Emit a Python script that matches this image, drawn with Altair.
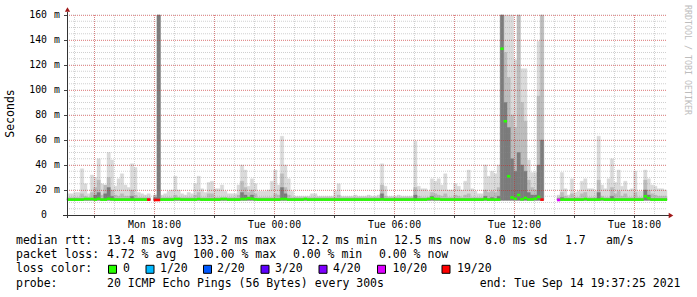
import altair as alt
import pandas as pd

# ---------------- data ----------------
START_H = 13 + 37 / 60 + 25 / 3600   # Mon 13:37:25 as hours since Mon 00:00
SPAN_H = 30
BIN_H = 10 / 60
SMOKE_FLOOR = 11.8                   # ms, bottom of the smoke

# smoke: max ping per 10-min bin (ms); None = no data
hi = [
    17, 17, 18, 18, 37, 25, 17, 32, 30, 45,
    25, 22, 50, 44, 23, 29, 33, 24, 22, 41,
    38, 18, 17, 16, 17, None, 16, 160, 16, 17,
    19, 20, 31, 20, 17, 16, 18, 17, 25, 31,
    21, 18, 26, 27, 21, 21, 24, 19, 17, 17,
    17, 24, 40, 36, 23, 29, 25, 19, 19, 19,
    20, 27, 36, 24, 63, 40, 29, 19, 15, 15,
    15, 15, 15, 17, 17, 15, 15, 15, 15, 15,
    19, 25, 15, 15, 15, 15, 16, 15, 15, 15,
    16, 15, 15, 16, 41, 23, 15, 15, 15, 16,
    15, 15, 15, 15, 59, 23, 21, 21, 19, 29,
    27, 29, 24, 33, 20, 20, 25, 23, 20, 27,
    36, 21, 19, 17, 17, 40, 31, 35, 33, 40,
    160, 160, 160, 160, 124, 160, 117, 117, 44, 34,
    34, 139, 160, None, None, None, None, 16, 34, 21,
    16, 29, 18, 19, 27, 29, 21, 21, 19, 63,
    24, 21, 29, 45, 26, 36, 23, 27, 20, 21,
    35, 19, 19, 36, 29, 24, 23, 21, 21, 20,
]
# inner (denser) smoke band top
mid = [
    14, 14, 14, 14, 17, 15, 14, 18, 22, 28,
    16, 24, 30, 20, 16, 15, 17, 15, 15, 20,
    16, 14, 14, 14, 14, None, 16, 160, 14, 14,
    14, 14, 16, 14, 14, 14, 14, 14, 16, 18,
    14, 14, 17, 17, 14, 14, 14, 14, 14, 14,
    14, 16, 27, 22, 18, 20, 17, 14, 14, 14,
    14, 14, 17, 16, 33, 22, 16, 14, 14, 14,
    14, 14, 14, 14, 14, 14, 14, 14, 14, 14,
    14, 16, 14, 14, 14, 14, 14, 14, 14, 14,
    14, 14, 14, 14, 24, 15, 14, 14, 14, 14,
    14, 14, 14, 14, 22, 15, 14, 14, 14, 18,
    17, 16, 15, 17, 14, 14, 16, 15, 14, 16,
    17, 14, 14, 14, 14, 20, 18, 19, 18, 22,
    160, 130, 110, 80, 70, 160, 90, 75, 28, 22,
    20, 95, 160, None, None, None, None, 14, 18, 15,
    14, 17, 14, 14, 17, 18, 14, 14, 14, 28,
    15, 14, 14, 22, 17, 19, 15, 17, 14, 14,
    18, 14, 14, 28, 20, 17, 16, 15, 15, 15,
]
# core (darkest) smoke band top
dark = [
    13, 13, 13, 13, 13, 13, 13, 13, 16, 18,
    13, 17, 22, 15, 13, 13, 13, 13, 13, 15,
    13, 13, 13, 13, 13, None, 14, 160, 13, 13,
    13, 13, 13, 13, 13, 13, 13, 13, 13, 13,
    13, 13, 13, 13, 13, 13, 13, 13, 13, 13,
    13, 13, 18, 16, 13, 16, 13, 13, 13, 13,
    13, 13, 13, 13, 22, 17, 13, 13, 13, 13,
    13, 13, 13, 13, 13, 13, 13, 13, 13, 13,
    13, 13, 13, 13, 13, 13, 13, 13, 13, 13,
    13, 13, 13, 13, 17, 13, 13, 13, 13, 13,
    13, 13, 13, 13, 16, 13, 13, 13, 13, 15,
    13, 13, 13, 13, 13, 13, 13, 13, 13, 13,
    13, 13, 13, 13, 13, 15, 13, 14, 13, 15,
    160, 90, 70, 45, 35, 50, 40, 35, 18, 16,
    16, 40, 60, None, None, None, None, 13, 14, 13,
    13, 13, 13, 13, 13, 13, 13, 13, 13, 18,
    13, 13, 13, 15, 13, 13, 13, 13, 13, 13,
    13, 13, 13, 20, 16, 13, 13, 13, 13, 13,
]
# median rtt (ms)
med = [
    12.3, 12.3, 12.3, 12.3, 12.3, 12.8, 12.8, 12.8, 12.3, 13.0,
    12.3, 12.3, 13.0, 12.5, 12.3, 12.3, 12.3, 12.3, 12.3, 12.3,
    12.3, 12.3, 12.3, 12.3, 12.3, None, 12.0, 12.0, 12.3, 12.3,
    12.3, 12.3, 12.8, 12.8, 12.3, 12.3, 12.3, 12.3, 12.3, 12.8,
    12.3, 12.3, 12.3, 12.3, 12.3, 12.3, 12.8, 12.8, 12.3, 12.3,
    12.3, 12.3, 12.8, 12.8, 13.5, 13.0, 12.5, 12.3, 12.3, 12.3,
    12.3, 12.3, 12.3, 12.3, 12.8, 12.8, 12.3, 12.3, 12.3, 12.3,
    12.3, 12.8, 12.3, 12.3, 12.3, 12.3, 12.3, 12.3, 12.3, 12.3,
    12.3, 12.3, 12.3, 12.3, 12.3, 12.3, 12.3, 12.3, 12.3, 12.3,
    12.3, 12.3, 12.3, 12.3, 12.5, 12.3, 12.3, 12.3, 12.3, 12.3,
    12.3, 12.3, 12.3, 12.3, 12.3, 12.3, 12.3, 12.3, 12.8, 13.5,
    12.8, 12.8, 12.3, 12.3, 12.3, 12.3, 12.3, 12.3, 12.3, 12.3,
    12.3, 12.3, 12.3, 12.3, 12.3, 12.8, 12.3, 12.3, 12.3, 12.3,
    133.0, 75.0, 31.0, 14.0, 13.0, 16.0, 12.5, 13.6, 12.5, 12.5,
    13.0, 14.5, 12.3, None, None, None, None, 12.0, 12.3, 12.3,
    12.3, 12.3, 12.3, 12.3, 12.3, 12.8, 12.3, 12.3, 12.3, 12.3,
    12.8, 12.3, 12.3, 12.3, 12.3, 12.3, 12.3, 12.3, 12.3, 12.3,
    12.3, 12.3, 12.3, 15.0, 13.5, 12.3, 12.3, 12.3, 12.3, 12.3,
]
# lost pings out of 20 per bin
lost = [
    0, 0, 0, 0, 0, 0, 0, 0, 0, 0,
    0, 0, 0, 0, 0, 0, 0, 0, 0, 0,
    0, 0, 0, 0, 19, None, 19, 19, 0, 0,
    0, 0, 0, 0, 0, 0, 0, 0, 0, 0,
    0, 0, 0, 0, 0, 0, 0, 0, 0, 0,
    0, 0, 0, 0, 0, 0, 0, 0, 0, 0,
    0, 0, 0, 0, 0, 0, 0, 0, 0, 0,
    0, 0, 0, 0, 0, 0, 0, 0, 0, 0,
    0, 0, 0, 0, 0, 0, 0, 0, 0, 0,
    0, 0, 0, 0, 0, 0, 0, 0, 0, 0,
    0, 0, 0, 0, 0, 0, 0, 0, 0, 0,
    0, 0, 0, 0, 0, 0, 0, 0, 0, 0,
    0, 0, 0, 0, 0, 0, 0, 0, 0, 0,
    0, 0, 0, 0, 0, 0, 0, 0, 0, 0,
    0, 0, 19, None, None, None, None, 10, 0, 0,
    0, 0, 0, 0, 0, 0, 0, 0, 0, 0,
    0, 0, 0, 0, 0, 0, 0, 0, 0, 0,
    0, 0, 0, 0, 0, 0, 0, 0, 0, 0,
]

loss_labels = ["0", "1/20", "2/20", "3/20", "4/20", "10/20", "19/20"]
loss_colors = ["#26ff00", "#00b8ff", "#0059ff", "#5e00ff", "#7e00ff", "#dd00ff", "#ff0000"]

x_tick_hours = [18, 24, 30, 36, 42]
x_tick_labels = ["Mon 18:00", "Tue 00:00", "Tue 06:00", "Tue 12:00", "Tue 18:00"]
y_tick_values = [0, 20, 40, 60, 80, 100, 120, 140, 160]
y_tick_labels = ["0", "20", "40", "60", "80", "100", "120", "140", "160"]
y_unit = "m"

stats_line1 = ["median rtt:", "13.4 ms avg", "133.2 ms max", "12.2 ms min",
               "12.5 ms now", "8.0 ms sd", "1.7", "am/s"]
stats_line2 = ["packet loss:", "4.72 % avg", "100.00 % max", "0.00 % min", "0.00 % now"]
stats_line3 = ["loss color:"]
stats_line4 = ["probe:", "20 ICMP Echo Pings (56 Bytes) every 300s"]
end_text = "end: Tue Sep 14 19:37:25 2021"
watermark = "RRDTOOL / TOBI OETIKER"
y_title = "Seconds"

# ---------------- layout ----------------
W, H = 600, 200
OX, OY = 67, 15            # plot origin in the page
MONO = "DejaVu Sans Mono"

rows = []
for i in range(len(hi)):
    if hi[i] is None:
        continue
    n = lost[i]
    rows.append(dict(
        x0=START_H + i * BIN_H, x1=START_H + (i + 1) * BIN_H,
        lo=SMOKE_FLOOR, hi=hi[i], mid=mid[i], dark=dark[i], med=med[i],
        loss="0" if n == 0 else f"{n}/20",
    ))
df = pd.DataFrame(rows)

xs = alt.Scale(domain=[START_H, START_H + SPAN_H], nice=False, zero=False)
ys = alt.Scale(domain=[0, 160], nice=False, zero=False)
X = lambda f: alt.X(f, scale=xs, axis=None)
Y = lambda f: alt.Y(f, scale=ys, axis=None)

base = alt.Chart(df)
layers = []
for top, col in [("hi", "#dadada"), ("mid", "#bcbcbc"), ("dark", "#7c7c7c")]:
    layers.append(base.mark_rect(color=col, stroke=col, strokeWidth=0.4).encode(
        x=X("x0:Q"), x2="x1:Q", y=Y("lo:Q"), y2=f"{top}:Q"))

# grid (semi-transparent, on top of the smoke as in rrdtool)
minor_h = list(range(14, 44))
major_h = list(range(15, 44, 3))
minor_v = list(range(5, 161, 5))
major_v = list(range(20, 161, 20))
MINOR = dict(color="#8a8a8a", opacity=0.4, strokeDash=[1, 1], strokeWidth=1)
MAJOR = dict(color="#e00000", opacity=0.38, strokeDash=[1, 1], strokeWidth=1)
layers.append(alt.Chart(pd.DataFrame({"h": minor_h})).mark_rule(**MINOR).encode(
    x=X("h:Q"), y=alt.value(0), y2=alt.value(H)))
layers.append(alt.Chart(pd.DataFrame({"v": minor_v})).mark_rule(**MINOR).encode(
    y=Y("v:Q"), x=alt.value(0), x2=alt.value(W)))
layers.append(alt.Chart(pd.DataFrame({"h": major_h})).mark_rule(**MAJOR).encode(
    x=X("h:Q"), y=alt.value(0), y2=alt.value(H)))
layers.append(alt.Chart(pd.DataFrame({"v": major_v})).mark_rule(yOffset=0.5, **MAJOR).encode(
    y=Y("v:Q"), x=alt.value(0), x2=alt.value(W)))

# median line coloured by loss
layers.append(base.mark_rule(strokeWidth=2.6).encode(
    x=X("x0:Q"), x2="x1:Q", y=Y("med:Q"),
    color=alt.Color("loss:N", scale=alt.Scale(domain=loss_labels, range=loss_colors), legend=None)))

one = pd.DataFrame({"a": [0]})
# axes and ticks
layers.append(alt.Chart(pd.DataFrame({"h": major_h})).mark_rule(color="#444444").encode(
    x=X("h:Q"), y=alt.value(H), y2=alt.value(H + 3)))
layers.append(alt.Chart(pd.DataFrame({"v": major_v})).mark_rule(color="#444444", yOffset=0.5).encode(
    y=Y("v:Q"), x=alt.value(-3), x2=alt.value(0)))
layers.append(alt.Chart(one).mark_rule(color="#333333").encode(
    x=alt.value(-4), x2=alt.value(W + 2), y=alt.value(H + 0.5)))
layers.append(alt.Chart(one).mark_rule(color="#333333").encode(
    x=alt.value(0.5), y=alt.value(-3), y2=alt.value(H + 3)))
layers.append(alt.Chart(one).mark_point(shape="triangle-up", filled=True, size=28,
                                        color="#a01818", opacity=1).encode(
    x=alt.value(0.5), y=alt.value(-5.5)))
layers.append(alt.Chart(one).mark_point(shape="triangle-right", filled=True, size=28,
                                        color="#a01818", opacity=1).encode(
    x=alt.value(W + 4), y=alt.value(H + 0.5)))

# tick labels
layers.append(alt.Chart(pd.DataFrame({"h": x_tick_hours, "t": x_tick_labels})).mark_text(
    font=MONO, fontSize=9.8, align="center", baseline="middle", color="#000").encode(
    x=X("h:Q"), y=alt.value(H + 10), text="t:N"))
ydf = pd.DataFrame({"v": y_tick_values, "t": y_tick_labels})
layers.append(alt.Chart(ydf).mark_text(
    font=MONO, fontSize=9.8, align="right", baseline="middle", color="#000").encode(
    y=Y("v:Q"), x=alt.value(-20), text="t:N"))
layers.append(alt.Chart(ydf[ydf.v > 0].assign(u=y_unit)).mark_text(
    font=MONO, fontSize=9.8, align="left", baseline="middle", color="#000").encode(
    y=Y("v:Q"), x=alt.value(-13), text="u:N"))

def text_at(t, ax, ay, size=11.5, align="left", angle=0, color="#000"):
    return alt.Chart(pd.DataFrame({"t": [t]})).mark_text(
        font=MONO, fontSize=size, align=align, baseline="middle", angle=angle, color=color).encode(
        x=alt.value(ax - OX), y=alt.value(ay - OY), text="t:N")

layers.append(text_at(y_title, 11, 113.5, angle=270, align="center"))
layers.append(text_at(watermark, 687, 60, size=8.3, angle=90, align="center", color="#bdbdbd"))

line_y = [241.3, 255.3, 269.3, 283.7]
line1_x = [16, 107, 193, 301, 394, 485, 565, 606]
line2_x = [16, 107, 193, 293, 379]
line3_x = [16]
line4_x = [16, 107]
for texts, xs_, ly in [(stats_line1, line1_x, line_y[0]), (stats_line2, line2_x, line_y[1]),
                       (stats_line3, line3_x, line_y[2]), (stats_line4, line4_x, line_y[3])]:
    for t, ax in zip(texts, xs_):
        layers.append(text_at(t, ax, ly))
layers.append(text_at(end_text, 680.5, line_y[3], align="right"))

box_x = [108.5, 146, 203.5, 261, 319, 377.5, 442]
label_x = [123, 160, 217, 275, 333, 392.5, 457]
for lab, col, bx, lx in zip(loss_labels, loss_colors, box_x, label_x):
    layers.append(alt.Chart(one).mark_rect(color=col, stroke="#000", strokeWidth=1).encode(
        x=alt.value(bx - OX), x2=alt.value(bx + 8 - OX),
        y=alt.value(265.3 - OY), y2=alt.value(273.3 - OY)))
    layers.append(text_at(lab, lx, line_y[2]))

chart = alt.layer(*layers).properties(
    width=W, height=H,
    padding={"left": OX, "top": OY, "right": 697 - OX - W, "bottom": 297 - OY - H},
    autosize=alt.AutoSizeParams(type="none"),
    background="#ffffff",
).configure_view(strokeWidth=0)

chart.save("out.html", embed_options={"renderer": "svg", "actions": False})
